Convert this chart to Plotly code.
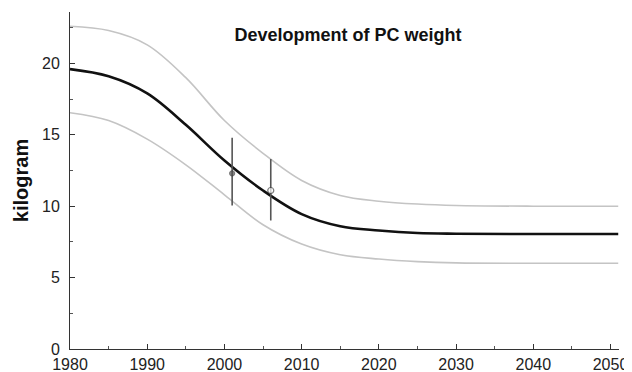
import plotly.graph_objects as go

years = [1980, 1985, 1990, 1995, 2000, 2005, 2010, 2015, 2020, 2025, 2030, 2040, 2051]
main_kg = [19.6, 19.1, 17.9, 15.7, 13.2, 11.1, 9.45, 8.6, 8.3, 8.12, 8.07, 8.05, 8.05]
upper_kg = [22.6, 22.3, 21.3, 19.0, 16.0, 13.7, 11.8, 10.75, 10.35, 10.15, 10.05, 10.0, 10.0]
lower_kg = [16.55, 16.0, 14.7, 12.9, 10.8, 8.7, 7.35, 6.6, 6.3, 6.12, 6.03, 6.0, 6.0]

obs_years = [2001, 2006]
obs_kg = [12.3, 11.1]
obs_plus = [2.5, 2.2]
obs_minus = [2.25, 2.1]

x_ticks = [1980, 1990, 2000, 2010, 2020, 2030, 2040, 2050]
y_ticks = [0, 5, 10, 15, 20]

FONT = "Liberation Sans, Arial, sans-serif"
W, H = 632, 372
OFF = 8  # page body margin offset

fig = go.Figure()
for ys in (upper_kg, lower_kg):
    fig.add_trace(go.Scatter(x=years, y=ys, mode="lines",
                             line=dict(color="#c4c4c4", width=1.6, shape="spline", smoothing=1.0),
                             hoverinfo="skip", showlegend=False))
fig.add_trace(go.Scatter(x=years, y=main_kg, mode="lines",
                         line=dict(color="#111111", width=2.6, shape="spline", smoothing=1.0),
                         showlegend=False))
fig.add_trace(go.Scatter(x=obs_years, y=obs_kg, mode="markers",
                         marker=dict(size=[5, 6], color=["#555555", "white"],
                                     symbol="circle",
                                     line=dict(color="#444444", width=1.2)),
                         error_y=dict(type="data", symmetric=False, array=obs_plus,
                                      arrayminus=obs_minus, color="#555555",
                                      thickness=1.6, width=0),
                         showlegend=False))

fig.update_layout(
    width=W, height=H,
    margin=dict(l=70 - OFF, r=W - (619 - OFF), t=12 - OFF, b=H - (349 - OFF)),
    paper_bgcolor="white", plot_bgcolor="white",
    font=dict(family=FONT, size=16, color="#222222"),
    title=dict(text="<b>Development of PC weight</b>", x=(348 - OFF) / W, xref="container",
               xanchor="center", y=1 - (35 - OFF) / H, yref="container", yanchor="middle",
               font=dict(family=FONT, size=18, color="#111111")),
    xaxis=dict(range=[1980, 2051.1], tickvals=x_ticks, showgrid=False, zeroline=False,
               showline=True, linecolor="#333333", linewidth=1, automargin=False,
               ticks="inside", ticklen=5, tickcolor="#333333",
               minor=dict(dtick=5, tick0=1980, ticks="inside", ticklen=3, tickcolor="#555555"),
               ticklabelstandoff=1,
               tickfont=dict(size=16, color="#222222")),
    yaxis=dict(range=[0, 23.6], tickvals=y_ticks, showgrid=False, zeroline=False,
               showline=True, linecolor="#333333", linewidth=1, automargin=False,
               ticks="inside", ticklen=5, tickcolor="#333333",
               minor=dict(dtick=2.5, tick0=0, ticks="inside", ticklen=3, tickcolor="#555555"),
               ticklabelstandoff=6,
               tickfont=dict(size=16, color="#222222"),
               title=dict(text="<b>kilogram</b>", font=dict(family=FONT, size=20, color="#111111"),
                          standoff=8)),
)

fig.write_html("out.html")
